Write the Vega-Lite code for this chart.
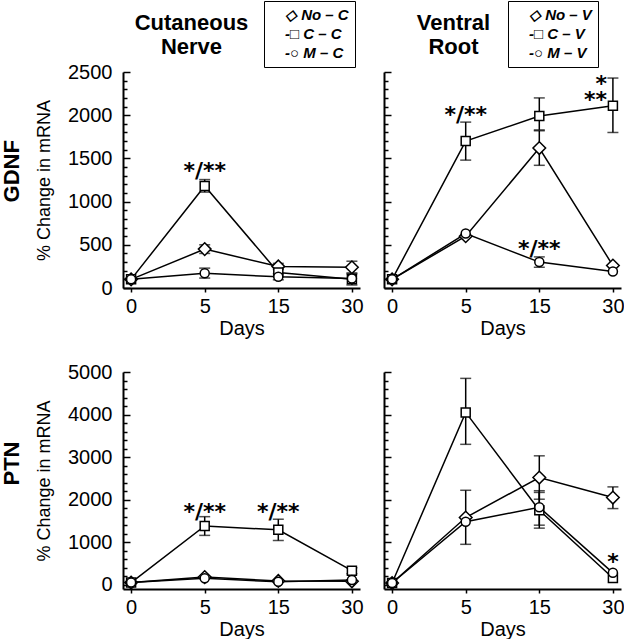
{
  "$schema": "https://vega.github.io/schema/vega-lite/v6.json",
  "background": "white",
  "padding": {"left": 0, "top": 0, "right": 0, "bottom": 0},
  "config": {
    "font": "Liberation Sans",
    "view": {"stroke": null},
    "axis": {"domainColor": "black", "domainWidth": 2, "tickColor": "black", "tickWidth": 1.5, "labelColor": "black", "titleColor": "black", "labelFontSize": 20, "titleFontSize": 20, "titleFontWeight": "normal", "grid": false, "labelFont": "Liberation Sans", "titleFont": "Liberation Sans"},
    "title": {"color": "black", "font": "Liberation Sans"}
  },
  "datasets": {
    "d": [
      {"gene": "GDNF", "nerve": "C", "series": "No", "day": 0, "value": 100},
      {"gene": "GDNF", "nerve": "C", "series": "No", "day": 5, "value": 450, "lo": 400, "hi": 500},
      {"gene": "GDNF", "nerve": "C", "series": "No", "day": 15, "value": 250, "lo": 215, "hi": 285},
      {"gene": "GDNF", "nerve": "C", "series": "No", "day": 30, "value": 240, "lo": 175, "hi": 310},
      {"gene": "GDNF", "nerve": "C", "series": "C", "day": 0, "value": 100},
      {"gene": "GDNF", "nerve": "C", "series": "C", "day": 5, "value": 1180, "lo": 1110, "hi": 1255},
      {"gene": "GDNF", "nerve": "C", "series": "C", "day": 15, "value": 180},
      {"gene": "GDNF", "nerve": "C", "series": "C", "day": 30, "value": 100, "lo": 35, "hi": 165},
      {"gene": "GDNF", "nerve": "C", "series": "M", "day": 0, "value": 100},
      {"gene": "GDNF", "nerve": "C", "series": "M", "day": 5, "value": 170, "lo": 115, "hi": 230},
      {"gene": "GDNF", "nerve": "C", "series": "M", "day": 15, "value": 130, "lo": 95, "hi": 165},
      {"gene": "GDNF", "nerve": "C", "series": "M", "day": 30, "value": 110},
      {"gene": "GDNF", "nerve": "V", "series": "No", "day": 0, "value": 100},
      {"gene": "GDNF", "nerve": "V", "series": "No", "day": 5, "value": 600},
      {"gene": "GDNF", "nerve": "V", "series": "No", "day": 15, "value": 1620, "lo": 1420, "hi": 1820},
      {"gene": "GDNF", "nerve": "V", "series": "No", "day": 30, "value": 260},
      {"gene": "GDNF", "nerve": "V", "series": "C", "day": 0, "value": 100},
      {"gene": "GDNF", "nerve": "V", "series": "C", "day": 5, "value": 1700, "lo": 1480, "hi": 1920},
      {"gene": "GDNF", "nerve": "V", "series": "C", "day": 15, "value": 1990, "lo": 1830, "hi": 2200},
      {"gene": "GDNF", "nerve": "V", "series": "C", "day": 30, "value": 2110, "lo": 1800, "hi": 2430},
      {"gene": "GDNF", "nerve": "V", "series": "M", "day": 0, "value": 100},
      {"gene": "GDNF", "nerve": "V", "series": "M", "day": 5, "value": 630},
      {"gene": "GDNF", "nerve": "V", "series": "M", "day": 15, "value": 300, "lo": 240, "hi": 360},
      {"gene": "GDNF", "nerve": "V", "series": "M", "day": 30, "value": 190},
      {"gene": "PTN", "nerve": "C", "series": "No", "day": 0, "value": 50},
      {"gene": "PTN", "nerve": "C", "series": "No", "day": 5, "value": 180},
      {"gene": "PTN", "nerve": "C", "series": "No", "day": 15, "value": 90},
      {"gene": "PTN", "nerve": "C", "series": "No", "day": 30, "value": 80},
      {"gene": "PTN", "nerve": "C", "series": "C", "day": 0, "value": 50},
      {"gene": "PTN", "nerve": "C", "series": "C", "day": 5, "value": 1380, "lo": 1160, "hi": 1600},
      {"gene": "PTN", "nerve": "C", "series": "C", "day": 15, "value": 1290, "lo": 1040, "hi": 1540},
      {"gene": "PTN", "nerve": "C", "series": "C", "day": 30, "value": 330, "lo": 260, "hi": 400},
      {"gene": "PTN", "nerve": "C", "series": "M", "day": 0, "value": 50},
      {"gene": "PTN", "nerve": "C", "series": "M", "day": 5, "value": 150},
      {"gene": "PTN", "nerve": "C", "series": "M", "day": 15, "value": 70},
      {"gene": "PTN", "nerve": "C", "series": "M", "day": 30, "value": 110},
      {"gene": "PTN", "nerve": "V", "series": "No", "day": 0, "value": 40},
      {"gene": "PTN", "nerve": "V", "series": "No", "day": 5, "value": 1580, "lo": 950, "hi": 2220},
      {"gene": "PTN", "nerve": "V", "series": "No", "day": 15, "value": 2520, "lo": 2010, "hi": 3030},
      {"gene": "PTN", "nerve": "V", "series": "No", "day": 30, "value": 2050, "lo": 1790, "hi": 2300},
      {"gene": "PTN", "nerve": "V", "series": "C", "day": 0, "value": 40},
      {"gene": "PTN", "nerve": "V", "series": "C", "day": 5, "value": 4050, "lo": 3300, "hi": 4850},
      {"gene": "PTN", "nerve": "V", "series": "C", "day": 15, "value": 1750, "lo": 1330, "hi": 2170},
      {"gene": "PTN", "nerve": "V", "series": "C", "day": 30, "value": 160},
      {"gene": "PTN", "nerve": "V", "series": "M", "day": 0, "value": 40},
      {"gene": "PTN", "nerve": "V", "series": "M", "day": 5, "value": 1480},
      {"gene": "PTN", "nerve": "V", "series": "M", "day": 15, "value": 1820, "lo": 1400, "hi": 2210},
      {"gene": "PTN", "nerve": "V", "series": "M", "day": 30, "value": 280}
    ],
    "stars": [
      {"gene": "GDNF", "nerve": "C", "day": 5, "value": 1393, "label": "*/**"},
      {"gene": "GDNF", "nerve": "V", "day": 5, "value": 2032, "label": "*/**"},
      {"gene": "GDNF", "nerve": "V", "day": 15, "value": 491, "label": "*/**"},
      {"gene": "GDNF", "nerve": "V", "day": 30, "value": 2395, "label": "*"},
      {"gene": "GDNF", "nerve": "V", "day": 30, "value": 2214, "label": "**"},
      {"gene": "PTN", "nerve": "C", "day": 5, "value": 1780, "label": "*/**"},
      {"gene": "PTN", "nerve": "C", "day": 15, "value": 1780, "label": "*/**"},
      {"gene": "PTN", "nerve": "V", "day": 30, "value": 610, "label": "*"}
    ]
  },
  "resolve": {"scale": {"shape": "independent"}, "legend": {"shape": "independent"}},
  "spacing": 24,
  "vconcat": [
    {
      "title": {"text": "GDNF", "orient": "left", "anchor": "middle", "fontSize": 22, "fontWeight": "bold", "offset": 12, "dx": -2},
      "spacing": 18,
      "resolve": {"scale": {"shape": "independent"}, "legend": {"shape": "independent"}},
      "hconcat": [
        {
          "width": 237, "height": 216,
          "title": {"text": ["Cutaneous", "Nerve"], "fontSize": 22, "fontWeight": "bold", "anchor": "middle", "frame": "group", "dx": -50, "lineHeight": 24, "offset": -58},
          "data": {"name": "d"},
          "transform": [{"filter": "datum.gene === 'GDNF' && datum.nerve === 'C'"}],
          "encoding": {
            "x": {"field": "day", "type": "ordinal", "scale": {"type": "point", "padding": 0.11, "domain": [0, 5, 15, 30]}, "axis": {"title": "Days", "labelAngle": 0, "tickSize": 4, "labelPadding": 4, "titlePadding": 2}},
            "y": {"field": "value", "type": "quantitative", "scale": {"domain": [0, 2500], "nice": false}, "axis": {"title": "% Change in mRNA", "titleFontSize": 18, "titlePadding": 14, "format": "d", "values": [0,100,200,300,400,500,600,700,800,900,1000,1100,1200,1300,1400,1500,1600,1700,1800,1900,2000,2100,2200,2300,2400,2500], "labelExpr": "datum.value % 500 === 0 ? datum.label : ''", "tickSize": {"expr": "datum.value % 500 === 0 ? -7 : -4"}, "labelPadding": 18}}
          },
          "layer": [
            {"mark": {"type": "line", "color": "black", "strokeWidth": 1.5}, "encoding": {"detail": {"field": "series"}}},
            {"transform": [{"filter": "datum.lo != null"}], "mark": {"type": "errorbar", "ticks": {"size": 11, "color": "black", "thickness": 1.5}, "rule": {"color": "black", "strokeWidth": 1.5}},
             "encoding": {"y": {"field": "lo", "type": "quantitative", "scale": {"domain": [0, 2500], "nice": false}, "axis": {"title": "% Change in mRNA", "titleFontSize": 18, "titlePadding": 14, "format": "d", "values": [0,100,200,300,400,500,600,700,800,900,1000,1100,1200,1300,1400,1500,1600,1700,1800,1900,2000,2100,2200,2300,2400,2500], "labelExpr": "datum.value % 500 === 0 ? datum.label : ''", "tickSize": {"expr": "datum.value % 500 === 0 ? -7 : -4"}, "labelPadding": 18}}, "y2": {"field": "hi"}}},
            {"mark": {"type": "point", "filled": true, "fill": "white", "stroke": "black", "strokeWidth": 1.5, "size": 81, "opacity": 1},
             "encoding": {"shape": {"field": "series", "type": "nominal", "scale": {"domain": ["No", "C", "M"], "range": ["M0,-1.4L1.4,0L0,1.4L-1.4,0Z", "M-1,-1L1,-1L1,1L-1,1Z", "M1,0A1,1,0,1,1,-1,0A1,1,0,1,1,1,0Z"]},
               "legend": {"title": null, "orient": "none", "legendX": 141, "legendY": -71, "labelExpr": "(datum.value === 'No' ? '◇ ' : datum.value === 'C' ? '-□ ' : '-○ ') + datum.label + ' – C'", "labelFontSize": 15, "labelFontWeight": "bold", "labelFontStyle": "italic", "labelColor": "black", "symbolSize": 1, "symbolOpacity": 0, "symbolStrokeWidth": 0, "strokeColor": "black", "padding": 6, "rowPadding": 3, "labelOffset": 0}}}},
            {"data": {"name": "stars"}, "transform": [{"filter": "datum.gene === 'GDNF' && datum.nerve === 'C'"}], "mark": {"type": "text", "font": "DejaVu Sans", "fontWeight": "bold", "fontSize": 22, "baseline": "middle", "dy": 3, "color": "black"}, "encoding": {"text": {"field": "label"}}}
          ]
        },
        {
          "width": 237, "height": 216,
          "title": {"text": ["Ventral", "Root"], "fontSize": 22, "fontWeight": "bold", "anchor": "middle", "frame": "group", "dx": -49, "lineHeight": 24, "offset": -58},
          "data": {"name": "d"},
          "transform": [{"filter": "datum.gene === 'GDNF' && datum.nerve === 'V'"}],
          "encoding": {
            "x": {"field": "day", "type": "ordinal", "scale": {"type": "point", "padding": 0.11, "domain": [0, 5, 15, 30]}, "axis": {"title": "Days", "labelAngle": 0, "tickSize": 4, "labelPadding": 4, "titlePadding": 2}},
            "y": {"field": "value", "type": "quantitative", "scale": {"domain": [0, 2500], "nice": false}, "axis": {"title": null, "labels": false, "values": [0,100,200,300,400,500,600,700,800,900,1000,1100,1200,1300,1400,1500,1600,1700,1800,1900,2000,2100,2200,2300,2400,2500], "tickSize": {"expr": "datum.value % 500 === 0 ? -7 : -4"}}}
          },
          "layer": [
            {"mark": {"type": "line", "color": "black", "strokeWidth": 1.5}, "encoding": {"detail": {"field": "series"}}},
            {"transform": [{"filter": "datum.lo != null"}], "mark": {"type": "errorbar", "ticks": {"size": 11, "color": "black", "thickness": 1.5}, "rule": {"color": "black", "strokeWidth": 1.5}},
             "encoding": {"y": {"field": "lo", "type": "quantitative", "scale": {"domain": [0, 2500], "nice": false}, "axis": {"title": null, "labels": false, "values": [0,100,200,300,400,500,600,700,800,900,1000,1100,1200,1300,1400,1500,1600,1700,1800,1900,2000,2100,2200,2300,2400,2500], "tickSize": {"expr": "datum.value % 500 === 0 ? -7 : -4"}}}, "y2": {"field": "hi"}}},
            {"mark": {"type": "point", "filled": true, "fill": "white", "stroke": "black", "strokeWidth": 1.5, "size": 81, "opacity": 1},
             "encoding": {"shape": {"field": "series", "type": "nominal", "scale": {"domain": ["No", "C", "M"], "range": ["M0,-1.4L1.4,0L0,1.4L-1.4,0Z", "M-1,-1L1,-1L1,1L-1,1Z", "M1,0A1,1,0,1,1,-1,0A1,1,0,1,1,1,0Z"]},
               "legend": {"title": null, "orient": "none", "legendX": 124, "legendY": -71, "labelExpr": "(datum.value === 'No' ? '◇ ' : datum.value === 'C' ? '-□ ' : '-○ ') + datum.label + ' – V'", "labelFontSize": 15, "labelFontWeight": "bold", "labelFontStyle": "italic", "labelColor": "black", "symbolSize": 1, "symbolOpacity": 0, "symbolStrokeWidth": 0, "strokeColor": "black", "padding": 6, "rowPadding": 3, "labelOffset": 0}}}},
            {"data": {"name": "stars"}, "transform": [{"filter": "datum.gene === 'GDNF' && datum.nerve === 'V' && datum.day !== 30"}], "mark": {"type": "text", "font": "DejaVu Sans", "fontWeight": "bold", "fontSize": 22, "baseline": "middle", "dy": 3, "color": "black"}, "encoding": {"text": {"field": "label"}}},
            {"data": {"name": "stars"}, "transform": [{"filter": "datum.gene === 'GDNF' && datum.nerve === 'V' && datum.day === 30"}], "mark": {"type": "text", "font": "DejaVu Sans", "fontWeight": "bold", "fontSize": 22, "baseline": "middle", "align": "right", "dx": -6, "dy": 3, "color": "black"}, "encoding": {"text": {"field": "label"}}}
          ]
        }
      ]
    },
    {
      "title": {"text": "PTN", "orient": "left", "anchor": "middle", "fontSize": 22, "fontWeight": "bold", "offset": 12, "dx": 37},
      "spacing": 18,
      "resolve": {"scale": {"shape": "independent"}, "legend": {"shape": "independent"}},
      "hconcat": [
        {
          "width": 237, "height": 217,
          "data": {"name": "d"},
          "transform": [{"filter": "datum.gene === 'PTN' && datum.nerve === 'C'"}],
          "encoding": {
            "x": {"field": "day", "type": "ordinal", "scale": {"type": "point", "padding": 0.11, "domain": [0, 5, 15, 30]}, "axis": {"title": "Days", "labelAngle": 0, "tickSize": 4, "labelPadding": 4, "titlePadding": 2}},
            "y": {"field": "value", "type": "quantitative", "scale": {"domain": [-100, 5000], "nice": false}, "axis": {"title": "% Change in mRNA", "titleFontSize": 18, "titlePadding": 14, "format": "d", "values": [0,200,400,600,800,1000,1200,1400,1600,1800,2000,2200,2400,2600,2800,3000,3200,3400,3600,3800,4000,4200,4400,4600,4800,5000], "labelExpr": "datum.value % 1000 === 0 ? datum.label : ''", "tickSize": {"expr": "datum.value % 1000 === 0 ? -7 : -4"}, "labelPadding": 18}}
          },
          "layer": [
            {"mark": {"type": "line", "color": "black", "strokeWidth": 1.5}, "encoding": {"detail": {"field": "series"}}},
            {"transform": [{"filter": "datum.lo != null"}], "mark": {"type": "errorbar", "ticks": {"size": 11, "color": "black", "thickness": 1.5}, "rule": {"color": "black", "strokeWidth": 1.5}},
             "encoding": {"y": {"field": "lo", "type": "quantitative", "scale": {"domain": [-100, 5000], "nice": false}, "axis": {"title": "% Change in mRNA", "titleFontSize": 18, "titlePadding": 14, "format": "d", "values": [0,200,400,600,800,1000,1200,1400,1600,1800,2000,2200,2400,2600,2800,3000,3200,3400,3600,3800,4000,4200,4400,4600,4800,5000], "labelExpr": "datum.value % 1000 === 0 ? datum.label : ''", "tickSize": {"expr": "datum.value % 1000 === 0 ? -7 : -4"}, "labelPadding": 18}}, "y2": {"field": "hi"}}},
            {"mark": {"type": "point", "filled": true, "fill": "white", "stroke": "black", "strokeWidth": 1.5, "size": 81, "opacity": 1},
             "encoding": {"shape": {"field": "series", "type": "nominal", "scale": {"domain": ["No", "C", "M"], "range": ["M0,-1.4L1.4,0L0,1.4L-1.4,0Z", "M-1,-1L1,-1L1,1L-1,1Z", "M1,0A1,1,0,1,1,-1,0A1,1,0,1,1,1,0Z"]}, "legend": null}}},
            {"data": {"name": "stars"}, "transform": [{"filter": "datum.gene === 'PTN' && datum.nerve === 'C'"}], "mark": {"type": "text", "font": "DejaVu Sans", "fontWeight": "bold", "fontSize": 22, "baseline": "middle", "dy": 3, "color": "black"}, "encoding": {"text": {"field": "label"}}}
          ]
        },
        {
          "width": 237, "height": 217,
          "data": {"name": "d"},
          "transform": [{"filter": "datum.gene === 'PTN' && datum.nerve === 'V'"}],
          "encoding": {
            "x": {"field": "day", "type": "ordinal", "scale": {"type": "point", "padding": 0.11, "domain": [0, 5, 15, 30]}, "axis": {"title": "Days", "labelAngle": 0, "tickSize": 4, "labelPadding": 4, "titlePadding": 2}},
            "y": {"field": "value", "type": "quantitative", "scale": {"domain": [-100, 5000], "nice": false}, "axis": {"title": null, "labels": false, "values": [0,200,400,600,800,1000,1200,1400,1600,1800,2000,2200,2400,2600,2800,3000,3200,3400,3600,3800,4000,4200,4400,4600,4800,5000], "tickSize": {"expr": "datum.value % 1000 === 0 ? -7 : -4"}}}
          },
          "layer": [
            {"mark": {"type": "line", "color": "black", "strokeWidth": 1.5}, "encoding": {"detail": {"field": "series"}}},
            {"transform": [{"filter": "datum.lo != null"}], "mark": {"type": "errorbar", "ticks": {"size": 11, "color": "black", "thickness": 1.5}, "rule": {"color": "black", "strokeWidth": 1.5}},
             "encoding": {"y": {"field": "lo", "type": "quantitative", "scale": {"domain": [-100, 5000], "nice": false}, "axis": {"title": null, "labels": false, "values": [0,200,400,600,800,1000,1200,1400,1600,1800,2000,2200,2400,2600,2800,3000,3200,3400,3600,3800,4000,4200,4400,4600,4800,5000], "tickSize": {"expr": "datum.value % 1000 === 0 ? -7 : -4"}}}, "y2": {"field": "hi"}}},
            {"mark": {"type": "point", "filled": true, "fill": "white", "stroke": "black", "strokeWidth": 1.5, "size": 81, "opacity": 1},
             "encoding": {"shape": {"field": "series", "type": "nominal", "scale": {"domain": ["No", "C", "M"], "range": ["M0,-1.4L1.4,0L0,1.4L-1.4,0Z", "M-1,-1L1,-1L1,1L-1,1Z", "M1,0A1,1,0,1,1,-1,0A1,1,0,1,1,1,0Z"]}, "legend": null}}},
            {"data": {"name": "stars"}, "transform": [{"filter": "datum.gene === 'PTN' && datum.nerve === 'V'"}], "mark": {"type": "text", "font": "DejaVu Sans", "fontWeight": "bold", "fontSize": 22, "baseline": "middle", "dy": 3, "color": "black"}, "encoding": {"text": {"field": "label"}}}
          ]
        }
      ]
    }
  ]
}
